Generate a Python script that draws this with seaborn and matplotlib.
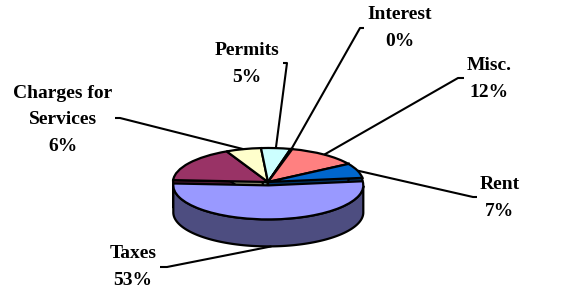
import numpy as np
import matplotlib
matplotlib.use("Agg")
import matplotlib.pyplot as plt
import matplotlib.transforms as mtransforms
from matplotlib.patches import Polygon
import seaborn as sns

# data (Excel order, drawn clockwise)
categories = ['Taxes', '', 'Charges for\nServices', 'Permits', 'Interest', 'Misc.', 'Rent']
values = [53, 17, 6, 5, 0.3, 12, 7]
pct_labels = ['53%', '', '6%', '5%', '0%', '12%', '7%']
top_colors = ['#9999FF', '#993366', '#FFFFCC', '#CCFFFF', '#660066', '#FF8080', '#0066CC']

sns.set_theme(style="white")
plt.rcParams['font.family'] = ['Liberation Serif', 'DejaVu Serif']

W, H = 565, 289
fig = plt.figure(figsize=(W / 100, H / 100), dpi=100)
ax = fig.add_axes([0, 0, 1, 1])

# pie geometry in pixels
cx, cy = 268, H - 182
rx, ry = 95, 34
depth = 27 / ry
explode = [0.1] + [0] * (len(values) - 1)

wedges, _ = ax.pie(values, colors=top_colors, startangle=7, counterclock=False,
                   explode=explode, wedgeprops=dict(edgecolor='black', linewidth=1.6))
ax.set_aspect('auto')
ax.set_xlim(0, W)
ax.set_ylim(0, H)
ax.axis('off')

ell = mtransforms.Affine2D().scale(rx, ry).translate(cx, cy) + ax.transData


def darker(c, f=0.5):
    r, g, b = matplotlib.colors.to_rgb(c)
    return (r * f, g * f, b * f)


for i, w in enumerate(wedges):
    front = i == 0
    w.set_transform(ell)
    w.set_zorder(4 if front else 2)
    wx, wy = w.center
    side_col = darker(top_colors[i])

    # cut faces, only seen through the gap left by the exploded slice
    if not front:
        for a in (w.theta1, w.theta2):
            ex, ey = wx + np.cos(np.radians(a)), wy + np.sin(np.radians(a))
            face = Polygon([(wx, wy), (ex, ey), (ex, ey - depth), (wx, wy - depth)],
                           closed=True, transform=ell, facecolor=side_col,
                           edgecolor='black', linewidth=1.6, zorder=0.5)
            ax.add_patch(face)

    t = np.radians(np.linspace(w.theta1, w.theta2, 300))
    t = t[np.sin(t) < 0]
    if len(t) < 2:
        continue
    top = np.column_stack([wx + np.cos(t), wy + np.sin(t)])
    bot = top.copy()
    bot[:, 1] -= depth
    side = Polygon(np.vstack([top, bot[::-1]]), closed=True, transform=ell,
                   facecolor=side_col, edgecolor='black', linewidth=1.6,
                   zorder=3 if front else 1)
    ax.add_patch(side)

# label layout: text centre, leader start, elbow (pixels from top-left)
label_layout = {
    'Interest': ((400, 28), (364, 28), (360, 28)),
    'Permits': ((247, 64), (283, 63), (287, 63)),
    'Misc.': ((489, 79), (464, 78), (458, 78)),
    'Charges for\nServices': ((63, 120), (115, 118), (120, 118)),
    'Rent': ((500, 198), (477, 197), (473, 197)),
    'Taxes': ((133, 267), (160, 267), (167, 267)),
}

for i, w in enumerate(wedges):
    name = categories[i]
    if name not in label_layout:
        continue
    (tx, ty), p0, p1 = label_layout[name]
    ax.text(tx, H - ty, name + '\n' + pct_labels[i], ha='center', va='center',
            fontsize=14, fontweight='bold', color='black', linespacing=1.75, zorder=6)
    mid = np.radians((w.theta1 + w.theta2) / 2)
    wx, wy = w.center
    ay = wy + np.sin(mid)
    if np.sin(mid) < 0:
        ay -= depth
    px, py = ax.transData.inverted().transform(ell.transform((wx + np.cos(mid), ay)))
    ax.plot([p0[0], p1[0], px], [H - p0[1], H - p1[1], py], color='black',
            linewidth=1.5, zorder=5, solid_capstyle='butt')

fig.savefig('out.png', dpi=100, facecolor='white')
